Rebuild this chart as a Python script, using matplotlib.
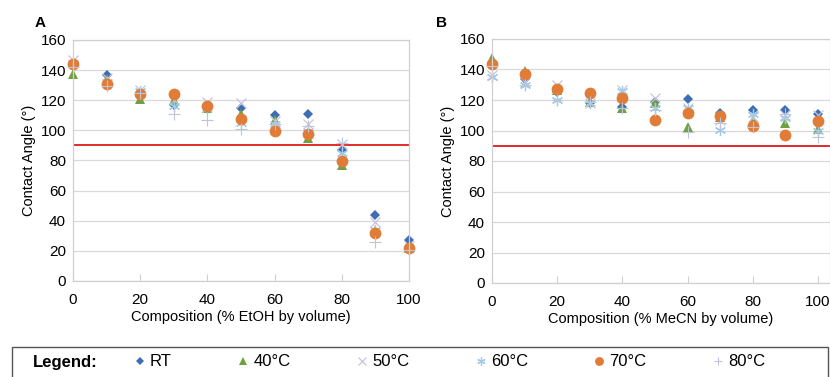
import numpy as np
import matplotlib
matplotlib.use("Agg")
import matplotlib.pyplot as plt
from matplotlib.patches import Rectangle

plt.rcParams['font.family'] = ['Liberation Sans', 'DejaVu Sans']

composition = [0, 10, 20, 30, 40, 50, 60, 70, 80, 90, 100]
series_labels = ['RT', '40°C', '50°C', '60°C', '70°C', '80°C']

# panel A: EtOH
etoh_rt = [143, 136.5, 124, 117, 116, 115, 110, 111, 87, 44, 27]
etoh_40 = [137.5, 134, 121, 120, 115, 111, 107, 95, 77, 33, 22]
etoh_50 = [147, 135, 127, 120, 119, 118, 106, 104, 91, 39, 23]
etoh_60 = [145, 132, 126, 116, 114, 105, 104, 99, 85, 34, 21]
etoh_70 = [144.3, 131, 124, 124, 116.5, 107.5, 99.7, 97.7, 79.8, 32, 21.7]
etoh_80 = [142, 129.6, 125, 110.8, 107, 101, 104, 103, 91.5, 26, 20.6]

# panel B: MeCN
mecn_rt = [143, 133.6, 125.5, 118, 115.6, 118.7, 120.4, 111.7, 113.4, 113.4, 110.6]
mecn_40 = [147.3, 139, 126.6, 119, 114.5, 118, 102.5, 109, 107, 105, 100.8]
mecn_50 = [136.4, 132, 130, 118, 126.6, 121, 114.5, 107, 109, 110, 110]
mecn_60 = [135.3, 130, 120, 118, 126, 114.5, 114.5, 100.3, 111, 108, 100]
mecn_70 = [143.4, 137.3, 127, 124.4, 121, 107, 111.5, 109.7, 103, 97, 106.5]
mecn_80 = [142, 130, 120, 119, 114.5, 113.4, 99, 105, 102.5, 111, 95.5]

threshold = 90

styles = [
    dict(marker='D', ms=5.5, color='#3D6DB3', mew=0),
    dict(marker='^', ms=7, color='#6FA142', mew=0),
    dict(marker='x', ms=7, color='#C9C3DF', mew=0.9),
    dict(marker=(6, 2, 0), ms=8, color='#A3CAE4', mew=0.9),
    dict(marker='o', ms=8.5, color='#E07C38', mew=0),
    dict(marker='+', ms=8, color='#BCC6D8', mew=0.8),
]

fig = plt.figure(figsize=(8.3, 3.77), dpi=100)
axA = fig.add_axes([73 / 830, 96 / 377, 336 / 830, 241 / 377])
axB = fig.add_axes([492 / 830, 94 / 377, 338 / 830, 244 / 377])


def draw_panel(ax, data, xlabel, xmax):
    handles = []
    for vals, lab, st in zip(data, series_labels, styles):
        h, = ax.plot(composition, vals, ls='none', label=lab, clip_on=False, **st)
        handles.append(h)
    ax.axhline(threshold, color='#E02B2B', lw=1.4, zorder=1)
    ax.set_xlim(0, xmax)
    ax.set_ylim(0, 160)
    ax.set_xticks(np.arange(0, 101, 20))
    ax.set_yticks(np.arange(0, 161, 20))
    ax.yaxis.grid(True, color='#D9D9D9', lw=0.9)
    ax.set_axisbelow(True)
    for sp in ax.spines.values():
        sp.set_color('#D0D0D0')
        sp.set_linewidth(0.9)
    ax.tick_params(axis='x', direction='in', length=5, color='#D0D0D0',
                   labelsize=11, pad=9)
    ax.tick_params(axis='y', length=0, labelsize=11, pad=5)
    ax.set_xlabel(xlabel, fontsize=10.5, labelpad=2)
    ax.set_ylabel('Contact Angle (°)', fontsize=10.5, labelpad=3)
    return handles


handles = draw_panel(axA, [etoh_rt, etoh_40, etoh_50, etoh_60, etoh_70, etoh_80],
                     'Composition (% EtOH by volume)', 100)
draw_panel(axB, [mecn_rt, mecn_40, mecn_50, mecn_60, mecn_70, mecn_80],
           'Composition (% MeCN by volume)', 100 * 338 / 326)

fig.text(40 / 830, 1 - 23 / 377, 'A', fontsize=11, fontweight='bold', ha='center', va='center')
fig.text(441 / 830, 1 - 23 / 377, 'B', fontsize=11, fontweight='bold', ha='center', va='center')

# legend box along the bottom
fig.patches.append(Rectangle((12 / 830, -0.02), 816 / 830, 0.02 + 30 / 377,
                             transform=fig.transFigure, fill=False,
                             edgecolor='#555555', lw=1.0))
fig.text(33 / 830, 15 / 377, 'Legend:', fontsize=12, fontweight='bold', va='center')
fig.legend(handles, series_labels, loc='center', ncol=6, mode='expand',
           bbox_to_anchor=(135 / 830, 5 / 377, 630 / 830, 20 / 377),
           frameon=False, fontsize=12, markerscale=0.75, handlelength=0.6,
           handletextpad=0.3, borderpad=0, borderaxespad=0)

fig.savefig('out.png', dpi=100)
